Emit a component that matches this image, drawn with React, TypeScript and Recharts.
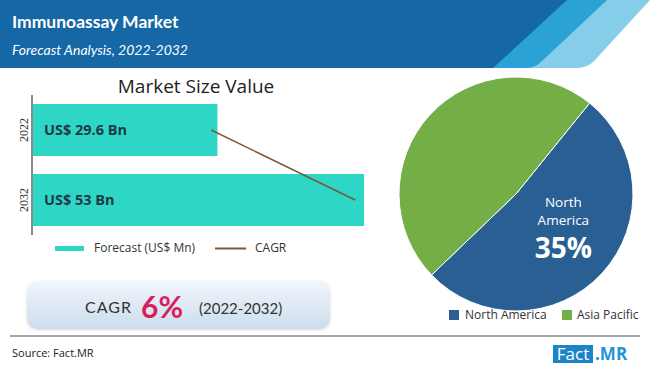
import React from 'react';
import { ComposedChart, Bar, Line, XAxis, YAxis, LabelList, PieChart, Pie, Cell } from 'recharts';

const years = ['2022', '2032'];
const marketSize = [29.6, 53];
const barLabels = ['US$ 29.6 Bn', 'US$ 53 Bn'];
const cagrLine = [28.6, 51.6];

const regions = ['North America', 'Asia Pacific'];
const regionShares = [52, 48];
const regionColors = ['#2a5f94', '#74ae47'];
const highlightLabel = ['North', 'America', '35%'];

const barData = years.map((y, i) => ({ year: y, value: marketSize[i], label: barLabels[i], cagr: cagrLine[i] }));
const pieData = regions.map((r, i) => ({ name: r, value: regionShares[i] }));

const RAD = Math.PI / 180;

const YearTick = (props: any) => {
  const { x, y, payload } = props;
  return (
    <text x={x} y={y} transform={`rotate(-90, ${x}, ${y})`} textAnchor="middle" dominantBaseline="central"
      fontFamily="'Liberation Serif', serif" fontSize={12} fill="#333">
      {payload.value}
    </text>
  );
};

const PieLabel = (props: any) => {
  const { cx, cy, midAngle, outerRadius, index } = props;
  if (index !== 0) return null;
  const r = outerRadius * 0.55;
  const ax = cx + r * Math.cos(-midAngle * RAD);
  const ay = cy + r * Math.sin(-midAngle * RAD);
  return (
    <g fontFamily="'Open Sans', sans-serif" fill="#fff" textAnchor="middle">
      <text x={ax} y={ay - 36} dominantBaseline="central" fontSize={13.5} fill="#fff">{highlightLabel[0]}</text>
      <text x={ax} y={ay - 18} dominantBaseline="central" fontSize={13.5} fill="#fff">{highlightLabel[1]}</text>
      <text x={ax} y={ay + 9} dominantBaseline="central" fontSize={28} fontWeight={700} fill="#fff">{highlightLabel[2]}</text>
    </g>
  );
};

export default function App() {
  return (
    <div style={{ position: 'absolute', left: 0, top: 0, width: 650, height: 375, background: '#fff', overflow: 'hidden' }}>
      <svg width={650} height={375} style={{ position: 'absolute', left: 0, top: 0 }}>
        <defs>
          <linearGradient id="cagrGrad" x1="0" y1="0" x2="0" y2="1">
            <stop offset="0%" stopColor="#f1f6fb" />
            <stop offset="100%" stopColor="#cbdded" />
          </linearGradient>
          <filter id="sh" x="-10%" y="-20%" width="120%" height="150%">
            <feDropShadow dx="0" dy="1" stdDeviation="1.5" floodColor="#000" floodOpacity="0.15" />
          </filter>
        </defs>
        <path d="M 0 0 L 650 0 L 650 0 L 595 60 Q 588 68 576 68 L 0 68 Z" fill="#86cde9" />
        <path d="M 0 0 L 607 0 L 541 62 Q 535 68 526 68 L 0 68 Z" fill="#2aa2d5" />
        <path d="M 0 0 L 567 0 L 493 68 L 0 68 Z" fill="#1567a6" />
        <text x={12} y={28} fontFamily="Lato, sans-serif" fontWeight={700} fontSize={17.5} fill="#fff">Immunoassay Market</text>
        <text x={12} y={55} fontFamily="Lato, sans-serif" fontStyle="italic" fontSize={14} fill="#fff">Forecast Analysis, 2022-2032</text>

        <text x={196} y={93} textAnchor="middle" fontFamily="'Open Sans', sans-serif" fontSize={19} fill="#222">Market Size Value</text>

        <rect x={55} y={246} width={29} height={5} fill="#2ed6c6" />
        <text x={94} y={252} fontFamily="'Open Sans', sans-serif" fontSize={12} fill="#333">Forecast (US$ Mn)</text>
        <line x1={215} y1={248.5} x2={246} y2={248.5} stroke="#7a5738" strokeWidth={2} />
        <text x={255} y={252} fontFamily="'Open Sans', sans-serif" fontSize={12} fill="#333">CAGR</text>

        <rect x={27} y={281} width={303} height={48} rx={10} fill="url(#cagrGrad)" filter="url(#sh)" />
        <text x={85} y={313} fontFamily="Lato, sans-serif" fontSize={16} fill="#333" letterSpacing={1}>CAGR</text>
        <text x={141} y={318} fontFamily="Lato, sans-serif" fontSize={30} fontWeight={700} fill="#d81e5b">6%</text>
        <text x={199} y={314} fontFamily="Lato, sans-serif" fontSize={15} fill="#333">(2022-2032)</text>

        <rect x={449} y={310} width={10} height={10} fill={regionColors[0]} />
        <text x={465} y={319} fontFamily="'Open Sans', sans-serif" fontSize={12} fill="#333">{regions[0]}</text>
        <rect x={562} y={310} width={10} height={10} fill={regionColors[1]} />
        <text x={577} y={319} fontFamily="'Open Sans', sans-serif" fontSize={12} fill="#333">{regions[1]}</text>

        <rect x={10} y={335} width={630} height={2} fill="#a8a8a8" />

        <text x={12} y={357} fontFamily="'Open Sans', sans-serif" fontSize={11} fill="#222">Source: Fact.MR</text>
        <rect x={553} y={345} width={40} height={18} fill="#1a86c8" />
        <text x={573} y={360} textAnchor="middle" fontFamily="'Open Sans', sans-serif" fontSize={17} fill="#fff">Fact</text>
        <text x={595} y={360} fontFamily="'Open Sans', sans-serif" fontSize={17} fontWeight={700} fill="#1f94d6">.MR</text>
      </svg>

      <div style={{ position: 'absolute', left: 0, top: 0 }}>
        <ComposedChart width={380} height={240} layout="vertical" data={barData}
          margin={{ top: 95, right: 16, bottom: 5, left: 10 }} barCategoryGap={9}>
          <XAxis type="number" domain={[0, 53]} hide />
          <YAxis type="category" dataKey="year" width={22} axisLine={{ stroke: '#8a8a8a', strokeWidth: 2 }}
            tickLine={false} tick={<YearTick />} />
          <Bar dataKey="value" fill="#2ed6c6" barSize={52} isAnimationActive={false}>
            <LabelList dataKey="label" position="insideLeft" offset={12}
              style={{ fontFamily: "'Open Sans', sans-serif", fontWeight: 700, fontSize: 14.5, fill: '#1e3a48' }} />
          </Bar>
          <Line dataKey="cagr" stroke="#7a5738" strokeWidth={1.5} dot={false} isAnimationActive={false} />
        </ComposedChart>
      </div>

      <div style={{ position: 'absolute', left: 381, top: 64 }}>
        <PieChart width={270} height={260} margin={{ top: 0, right: 0, bottom: 0, left: 0 }}>
          <Pie data={pieData} dataKey="value" cx={135} cy={130} outerRadius={117} startAngle={51} endAngle={-309}
            stroke="#fff" strokeWidth={1} labelLine={false} label={<PieLabel />} isAnimationActive={false}>
            {pieData.map((d, i) => <Cell key={d.name} fill={regionColors[i]} />)}
          </Pie>
        </PieChart>
      </div>
    </div>
  );
}
